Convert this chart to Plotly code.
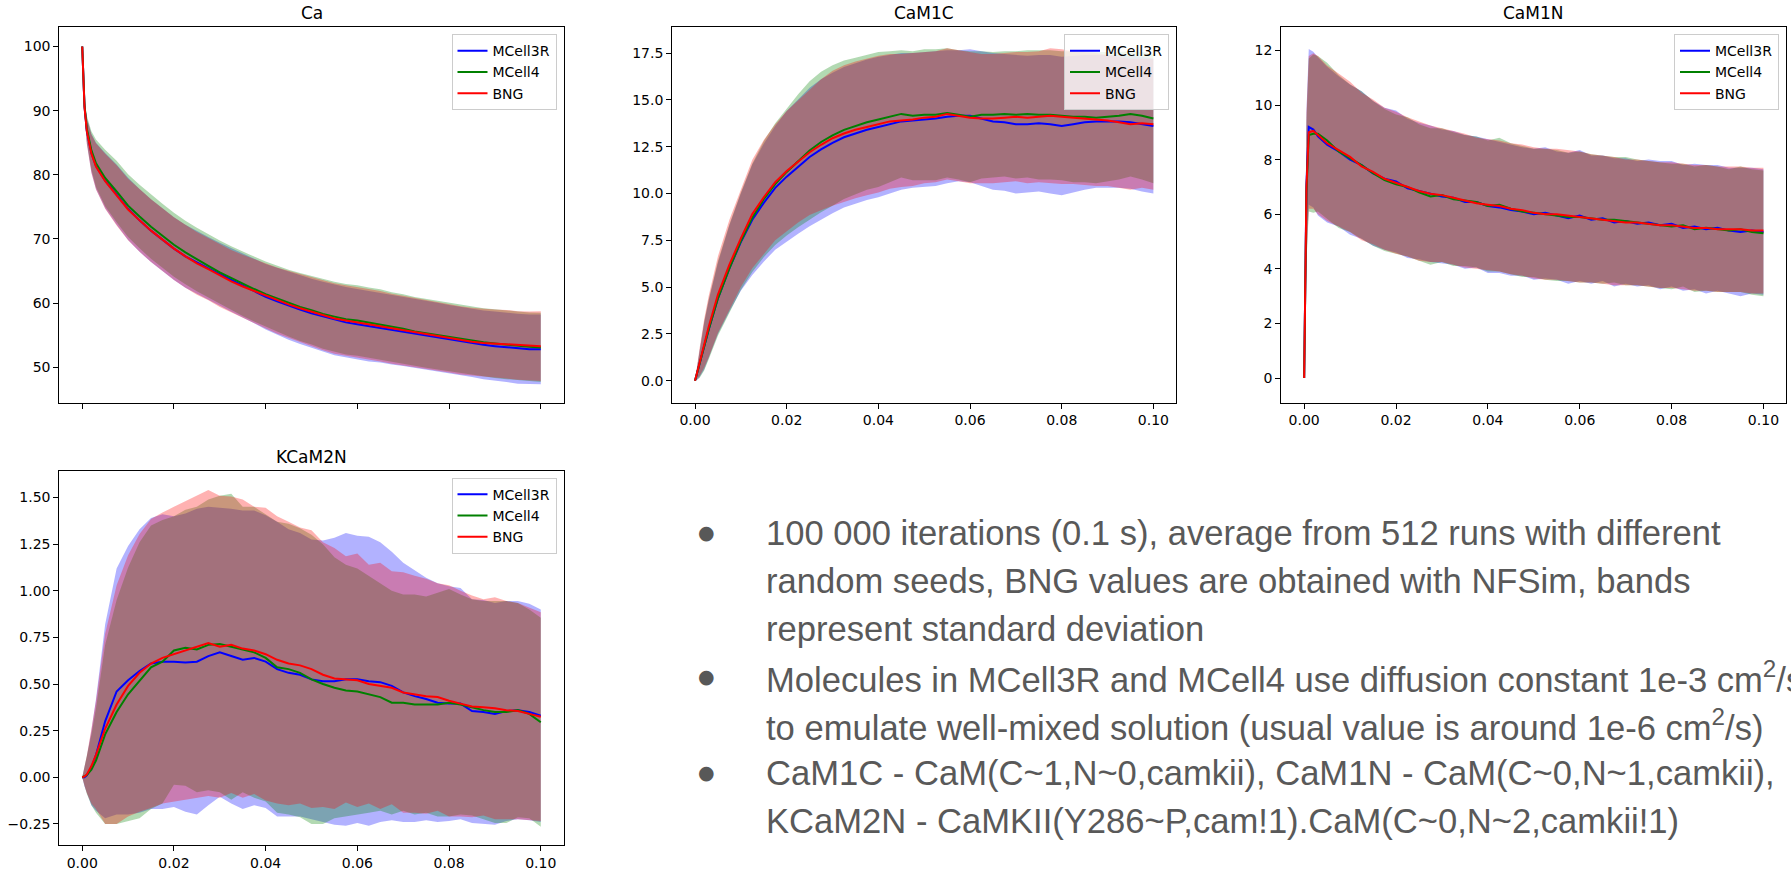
import plotly.graph_objects as go

W, H = 1791, 871

# ---------------- data ----------------
T = [0, 0.0005, 0.001, 0.002, 0.003, 0.005, 0.0075, 0.01, 0.0125, 0.015, 0.0175, 0.02,
     0.0225, 0.025, 0.0275, 0.03, 0.0325, 0.035, 0.0375, 0.04, 0.0425, 0.045, 0.0475, 0.05,
     0.0525, 0.055, 0.0575, 0.06, 0.0625, 0.065, 0.0675, 0.07, 0.0725, 0.075, 0.0775, 0.08,
     0.0825, 0.085, 0.0875, 0.09, 0.0925, 0.095, 0.0975, 0.1]

series_names = ["MCell3R", "MCell4", "BNG"]

# Ca
ca_mcell3r = [100, 90.6, 86.9, 83.4, 81.4, 79.1, 76.9, 74.7, 72.9, 71.3, 69.9, 68.5, 67.3, 66.3, 65.4,
              64.5, 63.6, 62.7, 61.9, 61.0, 60.3, 59.6, 59.0, 58.4, 57.9, 57.4, 57.0, 56.7, 56.4, 56.2,
              55.9, 55.6, 55.3, 55.0, 54.7, 54.4, 54.1, 53.8, 53.5, 53.3, 53.1, 52.9, 52.8, 52.8]
ca_mcell4 = [100, 90.8, 87.2, 83.8, 81.8, 79.5, 77.4, 75.2, 73.5, 71.9, 70.5, 69.1, 67.9, 66.8, 65.8,
             64.8, 63.9, 63.0, 62.2, 61.4, 60.7, 60.0, 59.4, 58.9, 58.3, 57.9, 57.5, 57.3, 57.0, 56.7,
             56.3, 56.0, 55.6, 55.3, 55.0, 54.7, 54.4, 54.1, 53.9, 53.7, 53.5, 53.3, 53.2, 53.1]
ca_bng = [100, 90.5, 86.8, 83.3, 81.3, 79.0, 76.8, 74.6, 72.9, 71.3, 69.9, 68.5, 67.3, 66.2, 65.3,
          64.3, 63.4, 62.6, 61.9, 61.1, 60.4, 59.8, 59.2, 58.7, 58.1, 57.6, 57.3, 57.0, 56.7, 56.4,
          56.0, 55.7, 55.4, 55.1, 54.8, 54.5, 54.2, 54.0, 53.8, 53.7, 53.6, 53.4, 53.3, 53.3]
ca_std_mcell3r = [0, 1.2, 2.0, 3.0, 3.6, 4.3, 4.7, 4.85, 4.9, 4.9, 4.9, 4.9, 4.9, 4.9, 4.9, 4.9, 4.95,
                  5.0, 5.05, 5.1, 5.2, 5.3, 5.35, 5.4, 5.45, 5.5, 5.5, 5.5, 5.5, 5.45, 5.45, 5.4, 5.4,
                  5.35, 5.35, 5.3, 5.3, 5.3, 5.35, 5.4, 5.4, 5.45, 5.45, 5.45]
ca_std_mcell4 = [0, 1.2, 2.0, 3.0, 3.7, 4.4, 4.8, 4.9, 4.95, 5.0, 5.0, 5.0, 4.95, 4.95, 4.9, 4.95, 4.95,
                 5.0, 5.05, 5.1, 5.15, 5.2, 5.3, 5.35, 5.4, 5.45, 5.5, 5.5, 5.45, 5.45, 5.4, 5.4, 5.35,
                 5.35, 5.35, 5.35, 5.3, 5.3, 5.3, 5.35, 5.35, 5.35, 5.35, 5.4]
ca_std_bng = [0, 1.2, 2.0, 3.0, 3.6, 4.3, 4.7, 4.8, 4.9, 4.9, 4.9, 4.9, 4.9, 4.9, 4.85, 4.9, 4.9,
              4.95, 5.0, 5.05, 5.15, 5.25, 5.35, 5.4, 5.45, 5.5, 5.5, 5.55, 5.5, 5.5, 5.45, 5.45, 5.4,
              5.4, 5.35, 5.3, 5.3, 5.3, 5.3, 5.3, 5.35, 5.35, 5.4, 5.45]

# CaM1C
cam1c_mcell3r = [0, 0.45, 0.9, 1.85, 2.75, 4.4, 6.0, 7.4, 8.6, 9.5, 10.3, 10.9, 11.45, 11.95, 12.35,
                 12.7, 13.0, 13.2, 13.4, 13.55, 13.7, 13.85, 13.9, 13.95, 14.0, 14.1, 14.15, 14.15,
                 14.0, 13.85, 13.8, 13.7, 13.7, 13.75, 13.7, 13.6, 13.7, 13.8, 13.85, 13.85, 13.85,
                 13.8, 13.7, 13.6]
cam1c_mcell4 = [0, 0.45, 0.9, 1.85, 2.75, 4.4, 6.0, 7.45, 8.7, 9.7, 10.5, 11.15, 11.75, 12.3, 12.75,
                13.1, 13.4, 13.6, 13.8, 13.95, 14.1, 14.25, 14.15, 14.2, 14.2, 14.3, 14.2, 14.1, 14.2,
                14.2, 14.25, 14.2, 14.25, 14.2, 14.2, 14.15, 14.1, 14.1, 14.05, 14.1, 14.15, 14.25,
                14.15, 14.0]
cam1c_bng = [0, 0.5, 1.0, 2.0, 2.9, 4.6, 6.2, 7.6, 8.9, 9.8, 10.6, 11.2, 11.7, 12.2, 12.6, 12.95,
             13.2, 13.4, 13.55, 13.7, 13.85, 13.9, 13.95, 14.05, 14.1, 14.25, 14.15, 14.05, 14.0,
             14.0, 14.05, 14.1, 14.05, 14.1, 14.15, 14.1, 14.05, 14.0, 13.95, 13.9, 13.8, 13.7,
             13.75, 13.7]
cam1c_std_mcell3r = [0, 0.4, 0.7, 1.25, 1.55, 1.9, 2.3, 2.6, 2.95, 3.15, 3.3, 3.5, 3.6, 3.7, 3.75,
                     3.75, 3.75, 3.75, 3.75, 3.75, 3.7, 3.65, 3.6, 3.6, 3.6, 3.55, 3.5, 3.55, 3.6,
                     3.65, 3.65, 3.7, 3.65, 3.65, 3.7, 3.7, 3.65, 3.6, 3.55, 3.55, 3.55, 3.55, 3.6, 3.6]
cam1c_std_mcell4 = [0, 0.4, 0.75, 1.3, 1.6, 2.0, 2.35, 2.6, 2.9, 3.1, 3.25, 3.4, 3.55, 3.7, 3.75,
                    3.75, 3.7, 3.65, 3.6, 3.6, 3.5, 3.4, 3.45, 3.5, 3.5, 3.45, 3.45, 3.5, 3.4, 3.35,
                    3.35, 3.4, 3.4, 3.45, 3.45, 3.45, 3.5, 3.5, 3.5, 3.45, 3.4, 3.35, 3.4, 3.45]
cam1c_std_bng = [0, 0.4, 0.75, 1.3, 1.65, 2.05, 2.4, 2.6, 2.9, 3.05, 3.1, 3.2, 3.25, 3.35, 3.5, 3.6,
                 3.65, 3.65, 3.65, 3.65, 3.6, 3.55, 3.55, 3.5, 3.5, 3.5, 3.5, 3.5, 3.45, 3.45, 3.45,
                 3.45, 3.5, 3.5, 3.6, 3.6, 3.55, 3.55, 3.55, 3.5, 3.5, 3.5, 3.45, 3.5]

# CaM1N
cam1n_mcell3r = [0, 7.1, 9.2, 9.1, 8.85, 8.55, 8.3, 8.0, 7.8, 7.5, 7.3, 7.2, 6.95, 6.85, 6.75, 6.65,
                 6.6, 6.45, 6.45, 6.3, 6.25, 6.15, 6.1, 6.0, 6.05, 5.95, 5.85, 5.95, 5.8, 5.85, 5.7,
                 5.75, 5.65, 5.7, 5.6, 5.65, 5.5, 5.55, 5.45, 5.5, 5.4, 5.35, 5.4, 5.35]
cam1n_mcell4 = [0, 6.8, 8.9, 8.95, 8.95, 8.7, 8.3, 8.05, 7.8, 7.5, 7.25, 7.1, 7.0, 6.8, 6.65, 6.7,
                6.55, 6.5, 6.45, 6.3, 6.35, 6.2, 6.1, 6.05, 6.0, 5.95, 5.9, 5.9, 5.85, 5.8, 5.8, 5.75,
                5.7, 5.65, 5.6, 5.55, 5.6, 5.45, 5.5, 5.45, 5.4, 5.45, 5.35, 5.3]
cam1n_bng = [0, 7.0, 9.0, 9.05, 8.9, 8.6, 8.35, 8.1, 7.75, 7.55, 7.3, 7.15, 7.0, 6.85, 6.75, 6.7,
             6.6, 6.5, 6.4, 6.35, 6.3, 6.2, 6.15, 6.05, 6.0, 6.0, 5.95, 5.9, 5.85, 5.8, 5.75, 5.7,
             5.7, 5.65, 5.6, 5.6, 5.55, 5.5, 5.5, 5.45, 5.45, 5.45, 5.4, 5.4]
cam1n_std_mcell3r = [0, 2.7, 2.85, 2.85, 2.9, 2.85, 2.75, 2.75, 2.7, 2.65, 2.6, 2.6, 2.55, 2.5, 2.5,
                     2.45, 2.45, 2.45, 2.4, 2.45, 2.4, 2.4, 2.35, 2.4, 2.4, 2.35, 2.4, 2.4, 2.35, 2.3,
                     2.35, 2.3, 2.3, 2.3, 2.35, 2.3, 2.3, 2.3, 2.35, 2.3, 2.3, 2.35, 2.3, 2.3]
cam1n_std_mcell4 = [0, 2.6, 2.8, 2.9, 2.85, 2.85, 2.8, 2.7, 2.7, 2.65, 2.6, 2.55, 2.55, 2.5, 2.5,
                    2.45, 2.45, 2.4, 2.4, 2.4, 2.45, 2.4, 2.4, 2.35, 2.4, 2.4, 2.35, 2.4, 2.35, 2.35,
                    2.3, 2.35, 2.3, 2.3, 2.3, 2.3, 2.25, 2.3, 2.3, 2.3, 2.25, 2.3, 2.3, 2.3]
cam1n_std_bng = [0, 2.7, 2.8, 2.85, 2.9, 2.85, 2.8, 2.75, 2.7, 2.65, 2.6, 2.6, 2.55, 2.55, 2.5,
                 2.45, 2.45, 2.45, 2.4, 2.4, 2.4, 2.4, 2.4, 2.4, 2.4, 2.4, 2.4, 2.4, 2.35, 2.35,
                 2.35, 2.3, 2.3, 2.3, 2.3, 2.3, 2.3, 2.3, 2.3, 2.3, 2.3, 2.3, 2.3, 2.3]

# KCaM2N
kcam2n_mcell3r = [0, 0.0, 0.01, 0.05, 0.12, 0.30, 0.46, 0.52, 0.57, 0.61, 0.62, 0.62, 0.615, 0.62,
                  0.65, 0.67, 0.65, 0.63, 0.64, 0.62, 0.58, 0.56, 0.55, 0.525, 0.515, 0.515, 0.525,
                  0.525, 0.515, 0.51, 0.49, 0.455, 0.435, 0.42, 0.40, 0.395, 0.395, 0.355, 0.35,
                  0.34, 0.355, 0.36, 0.35, 0.33]
kcam2n_mcell4 = [0, 0.004, 0.012, 0.04, 0.09, 0.23, 0.35, 0.445, 0.52, 0.59, 0.62, 0.68, 0.695,
                 0.685, 0.71, 0.715, 0.70, 0.685, 0.67, 0.64, 0.59, 0.58, 0.56, 0.525, 0.50, 0.48,
                 0.465, 0.46, 0.445, 0.43, 0.40, 0.40, 0.39, 0.39, 0.39, 0.40, 0.39, 0.375, 0.36,
                 0.35, 0.35, 0.36, 0.34, 0.295]
kcam2n_bng = [0, 0.005, 0.015, 0.06, 0.12, 0.26, 0.39, 0.49, 0.56, 0.61, 0.64, 0.66, 0.68, 0.70,
              0.72, 0.70, 0.71, 0.69, 0.68, 0.66, 0.63, 0.61, 0.60, 0.58, 0.55, 0.53, 0.525, 0.52,
              0.50, 0.49, 0.48, 0.455, 0.445, 0.435, 0.43, 0.41, 0.395, 0.38, 0.375, 0.37, 0.36,
              0.355, 0.34, 0.325]
kcam2n_std_mcell3r = [0, 0.05, 0.1, 0.2, 0.3, 0.52, 0.66, 0.72, 0.76, 0.78, 0.79, 0.78, 0.80, 0.82,
                      0.80, 0.775, 0.79, 0.80, 0.79, 0.785, 0.79, 0.77, 0.76, 0.75, 0.755, 0.77,
                      0.785, 0.77, 0.775, 0.75, 0.72, 0.695, 0.675, 0.65, 0.64, 0.63, 0.62, 0.60,
                      0.60, 0.595, 0.59, 0.585, 0.58, 0.57]
kcam2n_std_mcell4 = [0, 0.05, 0.1, 0.19, 0.28, 0.48, 0.6, 0.68, 0.74, 0.76, 0.76, 0.72, 0.74, 0.765,
                     0.78, 0.795, 0.82, 0.765, 0.78, 0.77, 0.78, 0.78, 0.775, 0.775, 0.75, 0.70,
                     0.675, 0.66, 0.635, 0.61, 0.60, 0.58, 0.59, 0.58, 0.60, 0.61, 0.59, 0.58,
                     0.585, 0.595, 0.595, 0.575, 0.56, 0.56]
kcam2n_std_bng = [0, 0.05, 0.1, 0.2, 0.29, 0.51, 0.64, 0.70, 0.745, 0.775, 0.78, 0.79, 0.80, 0.81,
                  0.82, 0.81, 0.795, 0.80, 0.77, 0.785, 0.77, 0.76, 0.74, 0.745, 0.71, 0.70, 0.66,
                  0.68, 0.64, 0.66, 0.625, 0.645, 0.635, 0.63, 0.61, 0.62, 0.605, 0.595, 0.58,
                  0.595, 0.585, 0.58, 0.57, 0.56]

panel_titles = ["Ca", "CaM1C", "CaM1N", "KCaM2N"]
x_ticks = [0.0, 0.02, 0.04, 0.06, 0.08, 0.10]
x_ticktext = ["0.00", "0.02", "0.04", "0.06", "0.08", "0.10"]
ca_yticks = [50, 60, 70, 80, 90, 100]
cam1c_yticks = [0, 2.5, 5.0, 7.5, 10.0, 12.5, 15.0, 17.5]
cam1c_yticktext = ["0.0", "2.5", "5.0", "7.5", "10.0", "12.5", "15.0", "17.5"]
cam1n_yticks = [0, 2, 4, 6, 8, 10, 12]
kcam2n_yticks = [-0.25, 0.0, 0.25, 0.5, 0.75, 1.0, 1.25, 1.5]
kcam2n_yticktext = ["\u22120.25", "0.00", "0.25", "0.50", "0.75", "1.00", "1.25", "1.50"]

bullet_lines = [
    ("\u25cf", "100 000 iterations (0.1 s), average from 512 runs with different"),
    ("", "random seeds, BNG values are obtained with NFSim, bands"),
    ("", "represent standard deviation"),
    ("\u25cf", "Molecules in MCell3R and MCell4 use diffusion constant 1e-3 cm<sup>2</sup>/s"),
    ("", "to emulate well-mixed solution (usual value is around 1e-6 cm<sup>2</sup>/s)"),
    ("\u25cf", "CaM1C - CaM(C~1,N~0,camkii), CaM1N - CaM(C~0,N~1,camkii),"),
    ("", "KCaM2N - CaMKII(Y286~P,cam!1).CaM(C~0,N~2,camkii!1)"),
]

panels = [
    dict(means=[ca_mcell3r, ca_mcell4, ca_bng], stds=[ca_std_mcell3r, ca_std_mcell4, ca_std_bng]),
    dict(means=[cam1c_mcell3r, cam1c_mcell4, cam1c_bng], stds=[cam1c_std_mcell3r, cam1c_std_mcell4, cam1c_std_bng]),
    dict(means=[cam1n_mcell3r, cam1n_mcell4, cam1n_bng], stds=[cam1n_std_mcell3r, cam1n_std_mcell4, cam1n_std_bng]),
    dict(means=[kcam2n_mcell3r, kcam2n_mcell4, kcam2n_bng], stds=[kcam2n_std_mcell3r, kcam2n_std_mcell4, kcam2n_std_bng]),
]
for p in panels:
    for arr in p["means"] + p["stds"]:
        assert len(arr) == len(T), len(arr)

# ---------------- styling ----------------
line_colors = ["#0000ff", "#008000", "#ff0000"]
band_colors = ["rgba(0,0,255,0.3)", "rgba(0,128,0,0.3)", "rgba(255,0,0,0.3)"]

# panel pixel boxes (left, right, top, bottom)
boxes = [(59.3, 563.7, 27.3, 404.0), (672.1, 1176.3, 27.3, 404.0),
         (1281.2, 1786.4, 27.3, 404.0), (59.3, 563.7, 472.7, 847.7)]
yranges = [[44.5, 103.0], [-1.17, 18.88], [-0.9, 12.85], [-0.362, 1.642]]

fig = go.Figure()
axsuf = ["", "2", "3", "4"]
legnames = ["legend", "legend2", "legend3", "legend4"]

for pi, p in enumerate(panels):
    xa, ya = "x" + axsuf[pi], "y" + axsuf[pi]
    for si in range(3):
        m, s = p["means"][si], p["stds"][si]
        upper = [a + b for a, b in zip(m, s)]
        lower = [a - b for a, b in zip(m, s)]
        fig.add_trace(go.Scatter(x=T + T[::-1], y=upper + lower[::-1], fill="toself",
                                 fillcolor=band_colors[si], line=dict(width=0),
                                 mode="lines", hoverinfo="skip", showlegend=False,
                                 xaxis=xa, yaxis=ya))
    for si in range(3):
        fig.add_trace(go.Scatter(x=T, y=p["means"][si], mode="lines", name=series_names[si],
                                 line=dict(color=line_colors[si], width=2),
                                 xaxis=xa, yaxis=ya, legend=legnames[pi]))

tickfont = dict(family="DejaVu Sans", size=14, color="black")

def xaxis(box, anchor, labels=True):
    return dict(domain=[box[0] / W, box[1] / W], anchor=anchor, range=[-0.005, 0.105],
                tickvals=x_ticks, ticktext=x_ticktext, showticklabels=labels,
                showline=True, mirror=True, linecolor="black", linewidth=1,
                ticks="outside", ticklen=5, tickwidth=1, tickcolor="black",
                showgrid=False, zeroline=False, tickfont=tickfont)

def yaxis(box, anchor, rng, vals, text):
    return dict(domain=[1 - box[3] / H, 1 - box[2] / H], anchor=anchor, range=rng,
                tickvals=vals, ticktext=text,
                showline=True, mirror=True, linecolor="black", linewidth=1,
                ticks="outside", ticklen=5, tickwidth=1, tickcolor="black",
                showgrid=False, zeroline=False, tickfont=tickfont)

layout = dict(
    width=W, height=H, margin=dict(l=0, r=0, t=0, b=0, pad=0),
    paper_bgcolor="white", plot_bgcolor="white", showlegend=True,
    xaxis=xaxis(boxes[0], "y", labels=False),
    yaxis=yaxis(boxes[0], "x", yranges[0], ca_yticks, [str(v) for v in ca_yticks]),
    xaxis2=xaxis(boxes[1], "y2"),
    yaxis2=yaxis(boxes[1], "x2", yranges[1], cam1c_yticks, cam1c_yticktext),
    xaxis3=xaxis(boxes[2], "y3"),
    yaxis3=yaxis(boxes[2], "x3", yranges[2], cam1n_yticks, [str(v) for v in cam1n_yticks]),
    xaxis4=xaxis(boxes[3], "y4"),
    yaxis4=yaxis(boxes[3], "x4", yranges[3], kcam2n_yticks, kcam2n_yticktext),
)

legend_pos = [(556.5, 34.3), (1169.0, 34.3), (1779.0, 34.3), (556.5, 479.3)]
for li, (lx, ly) in enumerate(legend_pos):
    layout[legnames[li]] = dict(x=lx / W, y=1 - ly / H, xanchor="right", yanchor="top",
                                bgcolor="rgba(255,255,255,0.8)", bordercolor="#cccccc",
                                borderwidth=1, font=dict(family="DejaVu Sans", size=14, color="black"),
                                tracegroupgap=0)
fig.update_layout(**layout)

annotations = []
title_pos = [(311.5, 13.3), (924.2, 13.3), (1533.8, 13.3), (311.5, 458.3)]
for (tx, ty), t in zip(title_pos, panel_titles):
    annotations.append(dict(text=t, x=tx / W, y=1 - ty / H, xref="paper", yref="paper",
                            xanchor="center", yanchor="middle", showarrow=False,
                            font=dict(family="DejaVu Sans", size=17, color="black")))

line_y = [535.0, 583.1, 631.2, 679.3, 727.4, 775.5, 823.6]
for (b, txt), yy in zip(bullet_lines, line_y):
    if b:
        annotations.append(dict(text=b, x=706.5 / W, y=1 - (yy - 1) / H, xref="paper", yref="paper",
                                xanchor="center", yanchor="middle", showarrow=False,
                                font=dict(family="DejaVu Sans", size=19, color="#585858")))
    annotations.append(dict(text=txt, x=764 / W, y=1 - yy / H, xref="paper", yref="paper",
                            xanchor="left", yanchor="middle", showarrow=False, align="left",
                            font=dict(family="Liberation Sans", size=34.6, color="#595959")))
fig.update_layout(annotations=annotations)

fig.write_html("out.html")
